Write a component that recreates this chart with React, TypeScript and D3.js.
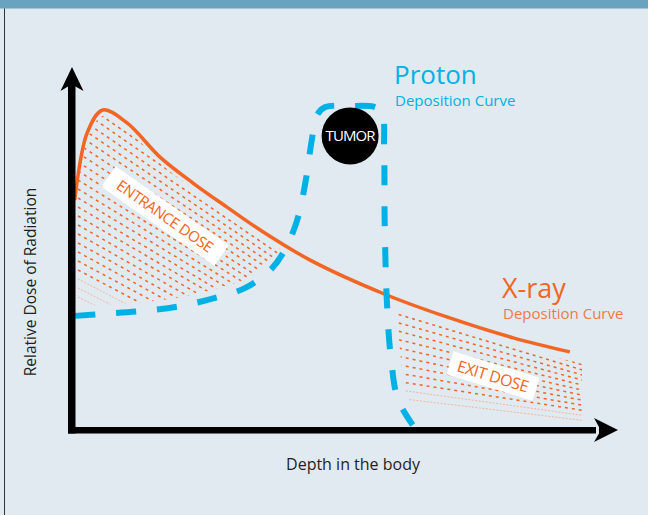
import React from 'react';
import * as d3 from 'd3';

// depth in the body (0-100) and relative dose (0-100)
const xrayDepth = [0.5, 2.8, 5.7, 10.2, 16.3, 22.4, 28.7, 34.8, 44.1, 58.3, 69.4, 81.7, 92.2];
const xrayDose = [63.9, 82.5, 88.9, 85.3, 75.8, 68.6, 61.9, 55.6, 47.2, 37.5, 31.4, 25.6, 21.7];

const protonDepth = [0.6, 5.2, 12.6, 20, 26.5, 32, 36.7, 39.4, 41.7, 43.3, 44.4, 45.4, 46.9, 51.5, 56.1, 57.4, 57.8, 57.9, 58.3, 59.1, 60.4, 63.1];
const protonDose = [31.7, 32.2, 33, 34.4, 36.7, 39.4, 44.4, 50, 58.3, 69.4, 80.5, 87.5, 89.7, 90, 89.7, 88.3, 77.8, 58.3, 36.1, 19.4, 8.3, 1.4];

// tumor sits on top of the proton peak
const tumorDepth = 51.5;
const tumorDose = 81.7;

const ORANGE = '#f26522';
const CYAN = '#00b1e6';
const FONT = '"Open Sans", "DejaVu Sans", sans-serif';

const W = 648;
const H = 515;

export default function App() {
  const x = d3.scaleLinear().domain([0, 100]).range([72, 612]);
  const y = d3.scaleLinear().domain([0, 100]).range([430, 70]);

  const xray: [number, number][] = xrayDepth.map((d, i) => [x(d), y(xrayDose[i])]);
  const proton: [number, number][] = protonDepth.map((d, i) => [x(d), y(protonDose[i])]);

  const line = d3.line().curve(d3.curveCatmullRom.alpha(0.5));
  const xrayPath = line(xray) as string;
  const protonPath = line(proton) as string;

  // split the proton curve at the end of its plateau
  const split = 14;
  const protonRise = line(proton.slice(0, split + 1)) as string;
  const protonFall = line(proton.slice(split)) as string;

  const [px0, py0] = proton[0];
  const [pxs, pys] = proton[split];
  const [pxe, pye] = proton[proton.length - 1];
  const [, xy0] = xray[0];

  const belowXray = `${xrayPath}L640,360L640,445L60,445L60,${xy0}Z`;
  const aboveRise = `${protonRise}L${pxs},0L60,0L60,${py0}L${px0},${py0}Z`;
  const rightOfFall = `${protonFall}L${pxe},${pye}L572,${y(2)}L572,${pys}Z`;

  // hatching lines (fan slightly from top to bottom)
  const entStarts = d3.range(99, 302, 9);
  const exitStarts = d3.range(304, 402, 8.5);

  const hatch = (starts: number[], x0: number, x1: number, s0: number, s1: number, fade: number) =>
    starts.map((sy, i) => {
      const t = starts.length > 1 ? i / (starts.length - 1) : 0;
      const slope = s0 + (s1 - s0) * t;
      const faded = i >= starts.length - fade;
      return (
        <line
          key={i}
          x1={x0}
          y1={sy}
          x2={x1}
          y2={sy + slope * (x1 - x0)}
          stroke={faded ? '#f3b796' : ORANGE}
          strokeWidth={faded ? 1 : 1.5}
          strokeDasharray={faded ? '2 1.5' : '3 4'}
        />
      );
    });

  const [ax, ay] = [x(0), y(0)];

  return (
    <svg
      width={W}
      height={H}
      style={{ position: 'fixed', left: 0, top: 0, display: 'block' }}
      fontFamily={FONT}
    >
      <defs>
        <clipPath id="entA">
          <path d={belowXray} transform="translate(0,6)" />
        </clipPath>
        <clipPath id="entB">
          <path d={aboveRise} transform="translate(0,-9)" />
        </clipPath>
        <clipPath id="exA">
          <path d={belowXray} transform="translate(0,9)" />
        </clipPath>
        <clipPath id="exB">
          <path d={rightOfFall} transform="translate(10,0)" />
        </clipPath>
      </defs>

      <rect width={W} height={H} fill="#e1e9f1" />
      <rect width={W} height={8.5} fill="#6aa3c0" />
      <line x1={4.5} x2={4.5} y1={8.5} y2={H} stroke="#333" strokeWidth={1} />

      {/* entrance dose hatching */}
      <g clipPath="url(#entA)">
        <g clipPath="url(#entB)">{hatch(entStarts, 78, 320, 0.7, 0.5, 3)}</g>
      </g>

      {/* exit dose hatching */}
      <g clipPath="url(#exA)">
        <g clipPath="url(#exB)">{hatch(exitStarts, 392, 590, 0.32, 0.12, 2)}</g>
      </g>

      <g transform="translate(165,216) rotate(35)">
        <rect x={-69} y={-12.5} width={138} height={25} fill="#fff" />
        <text textAnchor="middle" y={5.5} fontSize={15} letterSpacing={-0.4} fill={ORANGE}>
          ENTRANCE DOSE
        </text>
      </g>
      <g transform="translate(493,376) rotate(17)">
        <rect x={-45} y={-12} width={90} height={24} fill="#fff" />
        <text textAnchor="middle" y={6} fontSize={16} letterSpacing={-0.4} fill={ORANGE}>
          EXIT DOSE
        </text>
      </g>

      <path d={xrayPath} fill="none" stroke={ORANGE} strokeWidth={3.5} />
      <path d={protonPath} fill="none" stroke={CYAN} strokeWidth={6} strokeDasharray="20 21" />

      <circle cx={x(tumorDepth)} cy={y(tumorDose)} r={28.5} fill="#000" />
      <text
        x={x(tumorDepth)}
        y={y(tumorDose) + 5.5}
        textAnchor="middle"
        fontSize={15}
        fill="#fff"
        letterSpacing={-0.9}
      >
        TUMOR
      </text>

      {/* axes */}
      <rect x={ax - 4} y={86} width={7.5} height={ay - 86 + 3.5} fill="#000" />
      <path d={`M${ax},67L${ax + 11.5},91L${ax + 3.5},86.5L${ax - 4},86.5L${ax - 11.5},91Z`} fill="#000" />
      <rect x={ax - 4} y={ay - 3} width={600 - ax} height={6.5} fill="#000" />
      <path d={`M618,${ay}L594,${ay + 12}L599,${ay + 3.5}L599,${ay - 3}L594,${ay - 12}Z`} fill="#000" />

      <text x={353} y={470} textAnchor="middle" fontSize={16} fill="#231f20">
        Depth in the body
      </text>
      <text
        transform="translate(36,282) rotate(-90)"
        textAnchor="middle"
        fontSize={15.5}
        fill="#231f20"
      >
        Relative Dose of Radiation
      </text>

      <text x={394} y={84} fontSize={26} fill={CYAN}>
        Proton
      </text>
      <text x={395} y={106} fontSize={15} fill={CYAN}>
        Deposition Curve
      </text>
      <text x={502} y={298} fontSize={27} fill={ORANGE}>
        X-ray
      </text>
      <text x={503} y={319} fontSize={15} fill="#f07a45">
        Deposition Curve
      </text>
    </svg>
  );
}
